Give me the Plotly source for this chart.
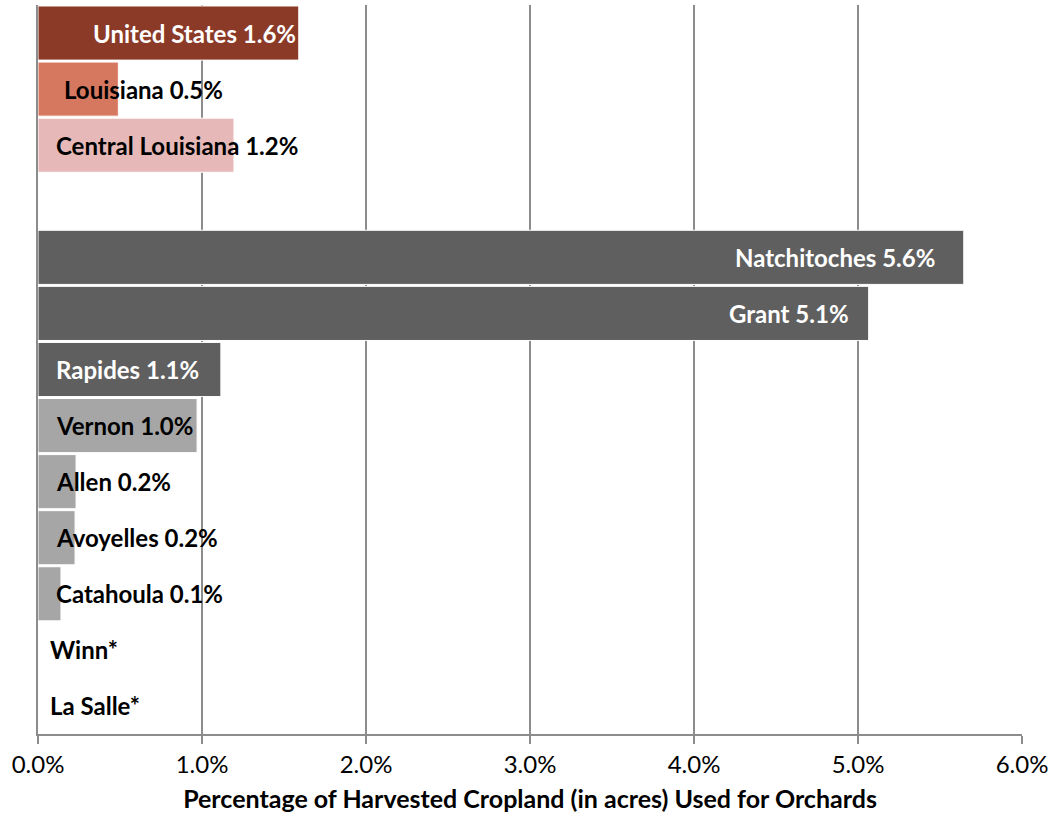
import plotly.graph_objects as go

# rows top to bottom; " " is the spacer row between state-level and parish bars
regions = ["United States", "Louisiana", "Central Louisiana", " ",
           "Natchitoches", "Grant", "Rapides", "Vernon", "Allen",
           "Avoyelles", "Catahoula", "Winn", "La Salle"]
pct_orchards = [1.59, 0.49, 1.195, 0, 5.645, 5.065, 1.115, 0.97, 0.232,
                0.226, 0.14, 0, 0]
labels = ["United States 1.6%", "Louisiana 0.5%", "Central Louisiana 1.2%", "",
          "Natchitoches 5.6%", "Grant 5.1%", "Rapides 1.1%", "Vernon 1.0%",
          "Allen 0.2%", "Avoyelles 0.2%", "Catahoula 0.1%", "Winn*", "La Salle*"]
tick_vals = [0, 1, 2, 3, 4, 5, 6]
tick_text = ["0.0%", "1.0%", "2.0%", "3.0%", "4.0%", "5.0%", "6.0%"]

bar_colors = ["#8C3A28", "#D6785F", "#E6B8B7", "#FFFFFF",
              "#5F5F5F", "#5F5F5F", "#5F5F5F",
              "#A6A6A6", "#A6A6A6", "#A6A6A6", "#A6A6A6", "#A6A6A6", "#A6A6A6"]

# label placement: (anchor, x in data units, text colour)
label_style = [("right", 1.585, "white"), ("left", 0.146, "black"), ("left", 0.10, "black"),
               ("left", 0.10, "black"), ("right", 5.48, "white"), ("right", 4.96, "white"),
               ("left", 0.10, "white"), ("left", 0.10, "black"), ("left", 0.10, "black"),
               ("left", 0.10, "black"), ("left", 0.10, "black"), ("left", 0.06, "black"),
               ("left", 0.06, "black")]

FONT = "Lato, 'Open Sans', sans-serif"

fig = go.Figure()
fig.add_trace(go.Bar(
    x=pct_orchards, y=regions, orientation="h",
    marker=dict(color=bar_colors, line=dict(color="white", width=1)),
    hoverinfo="skip", showlegend=False,
))

for reg, lab, (anchor, xpos, col) in zip(regions, labels, label_style):
    if not lab:
        continue
    fig.add_annotation(
        x=xpos, y=reg, text=f"<b>{lab}</b>", showarrow=False,
        xanchor=anchor, yanchor="middle",
        font=dict(family=FONT, size=24, color=col),
    )

fig.update_layout(
    width=1054, height=815,
    margin=dict(l=38, r=32, t=5, b=81),
    plot_bgcolor="white", paper_bgcolor="white",
    bargap=0.035,
    font=dict(family=FONT, size=24, color="black"),
    xaxis=dict(
        range=[0, 6], tickvals=tick_vals, ticktext=tick_text,
        automargin=False,
        showgrid=True, gridcolor="#8C8C8C", gridwidth=2,
        showline=True, linecolor="#8C8C8C", linewidth=2,
        ticks="outside", ticklen=8, tickwidth=2, tickcolor="#8C8C8C",
        tickfont=dict(family=FONT, size=24, color="black"),
        title=dict(text="<b>Percentage of Harvested Cropland (in acres) Used for Orchards</b>",
                   font=dict(family=FONT, size=25, color="black"), standoff=14),
        zeroline=False,
    ),
    yaxis=dict(
        autorange="reversed", showticklabels=False, showgrid=False,
        automargin=False,
        showline=True, linecolor="#8C8C8C", linewidth=2, ticks="",
        categoryorder="array", categoryarray=regions,
    ),
)

# drop the browser's default body margin so the figure sits at the page origin
fig.write_html("out.html", config={"displayModeBar": False},
               post_script="document.body.style.margin='0';")
